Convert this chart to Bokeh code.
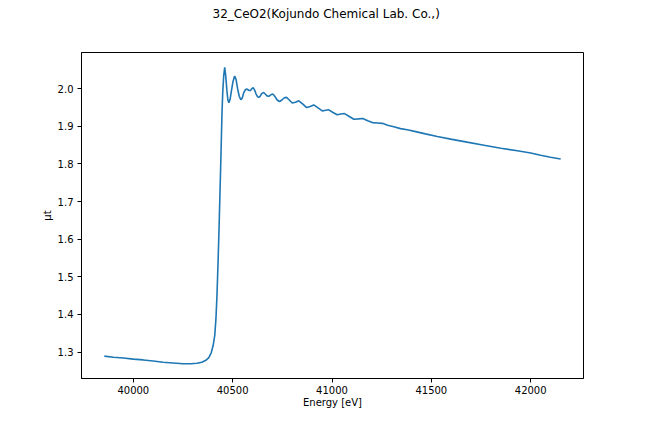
from bokeh.plotting import figure
from bokeh.models import Range1d, FixedTicker, PrintfTickFormatter, Title
from bokeh.embed import file_html
from bokeh.resources import INLINE

title_text = "32_CeO2(Kojundo Chemical Lab. Co.,)"
x_label = "Energy [eV]"
y_label = "μt"

energy = [39854, 39900, 39950, 40000, 40050, 40100, 40150, 40200, 40250, 40290,
          40320, 40345, 40365, 40380, 40392, 40402, 40410, 40416, 40421, 40426,
          40431, 40436, 40441, 40446, 40450, 40455, 40460, 40465, 40471, 40476,
          40481, 40487, 40494, 40502, 40510, 40517, 40525, 40533, 40541, 40548,
          40556, 40564, 40573, 40581, 40589, 40596, 40603, 40610, 40618, 40625,
          40631, 40638, 40646, 40656, 40664, 40673, 40682, 40692, 40702, 40712,
          40724, 40736, 40748, 40760, 40771, 40785, 40800, 40816, 40833, 40852,
          40872, 40890, 40908, 40930, 40951, 40968, 40984, 41005, 41026, 41045,
          41063, 41085, 41110, 41133, 41155, 41180, 41203, 41228, 41253, 41280,
          41311, 41345, 41379, 41421, 41470, 41530, 41597, 41680, 41765, 41850,
          41933, 42000, 42050, 42100, 42151]

mu_t = [1.289, 1.286, 1.284, 1.281, 1.279, 1.276, 1.273, 1.271, 1.269, 1.269,
        1.270, 1.273, 1.278, 1.285, 1.298, 1.318, 1.345, 1.390, 1.450, 1.530,
        1.620, 1.720, 1.820, 1.930, 1.990, 2.035, 2.057, 2.035, 1.995, 1.970,
        1.963, 1.972, 1.995, 2.020, 2.034, 2.025, 2.000, 1.980, 1.971, 1.975,
        1.990, 1.998, 1.999, 1.996, 1.995, 2.000, 2.003, 1.997, 1.986, 1.979,
        1.977, 1.980, 1.987, 1.990, 1.986, 1.981, 1.980, 1.984, 1.986, 1.980,
        1.970, 1.966, 1.970, 1.976, 1.977, 1.970, 1.962, 1.964, 1.968, 1.960,
        1.950, 1.953, 1.957, 1.949, 1.941, 1.943, 1.944, 1.937, 1.931, 1.933,
        1.934, 1.927, 1.919, 1.920, 1.921, 1.915, 1.910, 1.909, 1.908, 1.903,
        1.899, 1.894, 1.891, 1.886, 1.880, 1.873, 1.866, 1.858, 1.850, 1.842,
        1.835, 1.829, 1.823, 1.818, 1.813]

x_ticks = [40000, 40500, 41000, 41500, 42000]
y_ticks = [1.3, 1.4, 1.5, 1.6, 1.7, 1.8, 1.9, 2.0]

FONT = "DejaVu Sans"

xmin, xmax = min(energy), max(energy)
ymin, ymax = min(mu_t), max(mu_t)
xpad = 0.05 * (xmax - xmin)
ypad = 0.05 * (ymax - ymin)

p = figure(width=632, height=416, output_backend="svg", toolbar_location=None,
           x_range=Range1d(xmin - xpad, xmax + xpad),
           y_range=Range1d(ymin - ypad, ymax + ypad),
           min_border_left=81, min_border_right=49,
           min_border_top=52, min_border_bottom=38)

# invisible spacer between the frame and the title
spacer = Title(text=" ", text_font_size="2px", standoff=28, text_color="white")
p.add_layout(spacer, "above")

t = Title(text=title_text, align="left", vertical_align="bottom", text_font=FONT,
          text_font_size="12px", text_font_style="normal", text_color="black",
          standoff=0, offset=131)
p.add_layout(t, "above")

p.line(energy, mu_t, line_color="#1f77b4", line_width=1.6)

p.xgrid.visible = False
p.ygrid.visible = False
p.outline_line_color = "black"
p.outline_line_width = 1
p.background_fill_color = "white"
p.border_fill_color = "white"

for ax in (p.xaxis[0], p.yaxis[0]):
    ax.axis_line_color = "black"
    ax.major_tick_line_color = "black"
    ax.major_tick_in = 0
    ax.major_tick_out = 4
    ax.minor_tick_line_color = None
    ax.major_label_text_font = FONT
    ax.major_label_text_font_size = "10px"
    ax.major_label_text_color = "black"
    ax.axis_label_text_font = FONT
    ax.axis_label_text_font_size = "10px"
    ax.axis_label_text_font_style = "normal"
    ax.axis_label_text_color = "black"

p.xaxis[0].ticker = FixedTicker(ticks=x_ticks)
p.xaxis[0].formatter = PrintfTickFormatter(format="%d")
p.xaxis[0].axis_label = x_label
p.xaxis[0].major_label_standoff = 3
p.xaxis[0].axis_label_standoff = 0

p.yaxis[0].ticker = FixedTicker(ticks=y_ticks)
p.yaxis[0].formatter = PrintfTickFormatter(format="%.1f")
p.yaxis[0].axis_label = y_label
p.yaxis[0].major_label_standoff = 4
p.yaxis[0].axis_label_standoff = 2

open("out.html", "w").write(file_html(p, INLINE))
